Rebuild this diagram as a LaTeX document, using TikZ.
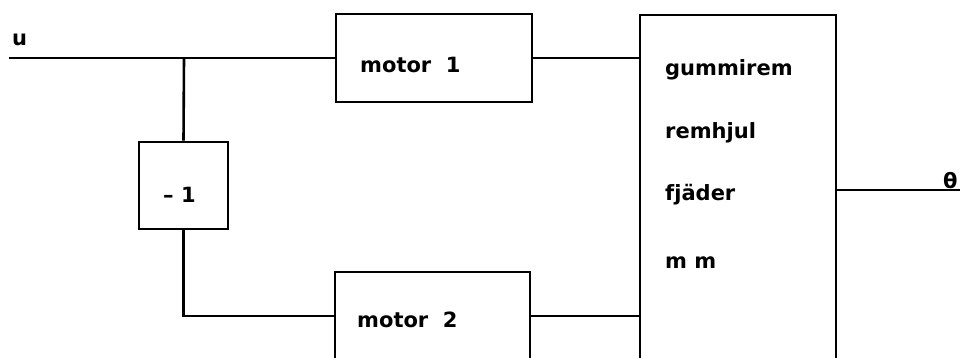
\documentclass[tikz,border=0pt]{standalone}
\usepackage{fontspec}
\setmainfont{DejaVu Sans}
\begin{document}
\begin{tikzpicture}[x=1pt,y=-1pt,
  wire/.style={line width=2.6pt},
  blk/.style={draw, line width=2.6pt, inner sep=0pt},
  lbl/.style={inner sep=0pt, anchor=base west, font=\fontsize{21}{24}\selectfont\bfseries}]
\useasboundingbox (0,0) rectangle (960,357);
\clip (0,0) rectangle (960,357);
% blocks
\node[blk, minimum width=196pt, minimum height=88pt] (m1) at (434,58) {};
\node[blk, minimum width=195pt, minimum height=88pt] (m2) at (432.5,316) {};
\node[blk, minimum width=89pt, minimum height=87pt] (neg) at (183.5,185.5) {};
\node[blk, minimum width=196pt, minimum height=347pt] (big) at (738,188.5) {};
% texts
\node[lbl] (t1) at (360,72) {motor\ \ 1};
\node[lbl] (t2) at (357,327) {motor\ \ 2};
\node[lbl] (tn) at (163,202) {–\ 1};
\node[lbl] (g1) at (665,75) {gummirem};
\node[lbl] (g2) at (665,138) {remhjul};
\node[lbl] (g3) at (665,200) {fjäder};
\node[lbl] (g4) at (665,268) {m m};
\node[lbl] (u) at (12,45) {u};
\node[lbl] (th) at (943,188) {θ};
% connectors
\coordinate (uin) at (9,58);
\coordinate (j) at (184,58);
\coordinate (out) at (960,190);
\draw[wire] (uin) -- (m1.west);
\draw[wire] (j) -- (neg.north);
\draw[wire] (neg.south) |- (m2.west);
\draw[wire] (m1.east) -- (m1.east -| big.west);
\draw[wire] (m2.east) -- (m2.east -| big.west);
\draw[wire] (big.east |- out) -- (out);
\end{tikzpicture}
\end{document}
